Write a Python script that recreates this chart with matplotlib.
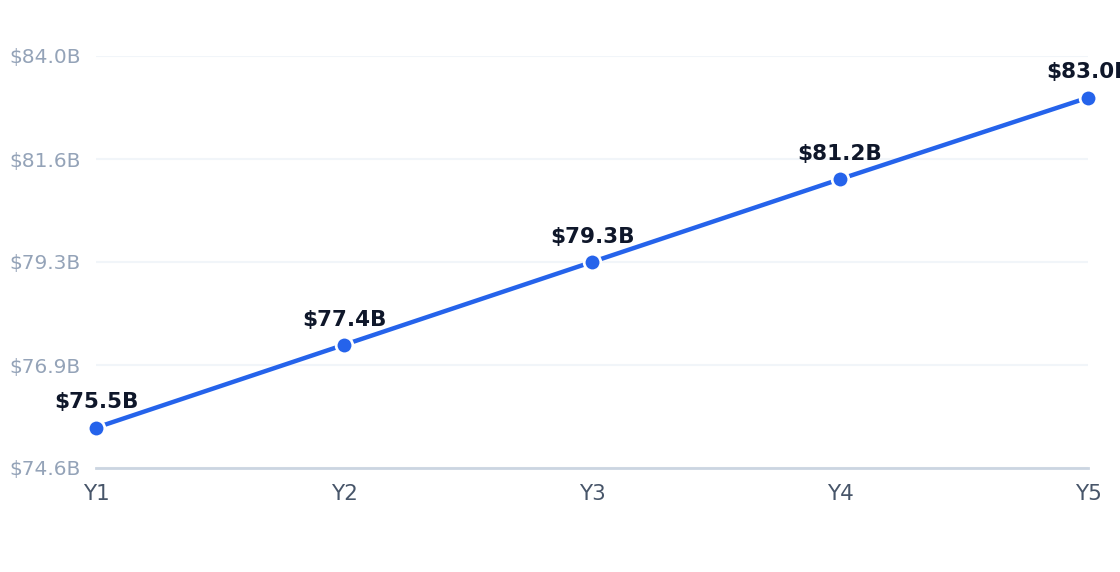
import matplotlib.pyplot as plt
import numpy as np

# chart data
years = ["Y1", "Y2", "Y3", "Y4", "Y5"]
revenue = [75.52, 77.41, 79.30, 81.19, 83.05]  # $B
ytick_vals = list(np.linspace(74.6, 84.0, 5))
ytick_labels = ["$74.6B", "$76.9B", "$79.3B", "$81.6B", "$84.0B"]

fig = plt.figure(figsize=(11.2, 5.72), dpi=100)
ax = fig.add_axes([96 / 1120, 1 - 468 / 572, 992 / 1120, 412 / 572])

x = np.arange(len(years))
ax.plot(x, revenue, color="#2563eb", lw=3.2, zorder=3,
        marker="o", ms=12, mfc="#2563eb", mec="white", mew=2, clip_on=False)

for xi, v in zip(x, revenue):
    ax.annotate(f"${v:.1f}B", (xi, v), xytext=(0, 11), textcoords="offset points",
                ha="center", va="bottom", fontsize=15.5, fontweight="bold",
                color="#0f172a", annotation_clip=False)

ax.set_xlim(0, len(years) - 1)
ax.set_ylim(74.6, 84.0)
ax.set_xticks(x)
ax.set_xticklabels(years)
ax.set_yticks(ytick_vals)
ax.set_yticklabels(ytick_labels)

ax.tick_params(axis="x", length=0, pad=11.5, labelsize=15.5, colors="#475569")
ax.tick_params(axis="y", length=0, pad=11, labelsize=14.5, colors="#94a3b8")
ax.grid(axis="y", color="#f1f5f9", lw=1.5)
ax.set_axisbelow(True)

for side in ["top", "right", "left"]:
    ax.spines[side].set_visible(False)
ax.spines["bottom"].set_color("#cbd5e1")
ax.spines["bottom"].set_linewidth(2)

fig.savefig("out.png", dpi=100)
